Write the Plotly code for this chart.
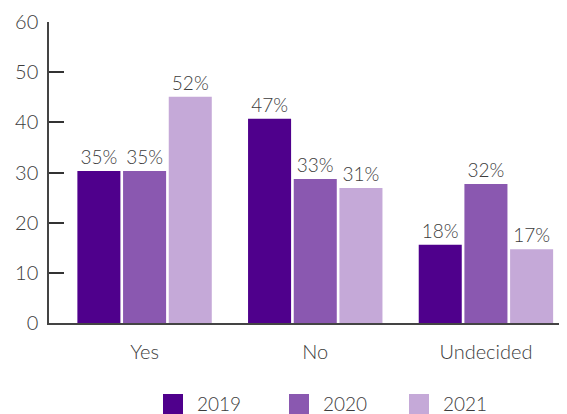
import plotly.graph_objects as go

categories = ["Yes", "No", "Undecided"]
years = ["2019", "2020", "2021"]
values_2019 = [30.3, 40.7, 15.6]
values_2020 = [30.3, 28.7, 27.7]
values_2021 = [45.1, 26.9, 14.7]
labels_2019 = ["35%", "47%", "18%"]
labels_2020 = ["35%", "33%", "32%"]
labels_2021 = ["52%", "31%", "17%"]
y_ticks = [0, 10, 20, 30, 40, 50, 60]

colors = ["#4f008c", "#8a58b0", "#c5a9d8"]
series = [values_2019, values_2020, values_2021]
labels = [labels_2019, labels_2020, labels_2021]

OFF = 8  # page body offset
W, H = 567 - OFF, 414 - OFF
ML, MR, MT, MB = 49 - OFF, 0, 22 - OFF, 91
PW, PH = W - ML - MR, H - MT - MB
BOTTOM = H - MB  # plot bottom in figure px
FONT = "Lato"
TXT = "#3c3c3c"

fig = go.Figure()
for yr, vals, lab, col in zip(years, series, labels, colors):
    fig.add_trace(go.Bar(
        x=categories, y=vals, name=yr, marker=dict(color=col, line=dict(width=0)),
        text=lab, textposition="outside", cliponaxis=False,
        textfont=dict(family=FONT, size=19, color=TXT, weight=300),
        showlegend=False,
    ))

# custom legend (squares + labels), reference pixel positions
legend_sq_px = [163, 289, 409]
for i, (yr, col) in enumerate(zip(years, colors)):
    px = legend_sq_px[i] - OFF
    x0 = (px - ML) / PW
    x1 = (px + 20 - ML) / PW
    y0 = -((394 - OFF) - BOTTOM) / PH
    y1 = -((414 - OFF) - BOTTOM) / PH
    fig.add_shape(type="rect", xref="paper", yref="paper", x0=x0, x1=x1, y0=y0, y1=y1,
                  fillcolor=col, line=dict(width=0))
    fig.add_annotation(xref="paper", yref="paper", x=(px + 32 - ML) / PW,
                       y=-((403 - OFF) - BOTTOM) / PH, text=yr, showarrow=False,
                       xanchor="left", yanchor="middle",
                       font=dict(family=FONT, size=19, color=TXT, weight=300))

fig.update_layout(
    width=W, height=H,
    margin=dict(l=ML, r=MR, t=MT, b=MB),
    paper_bgcolor="white", plot_bgcolor="white",
    barmode="group", bargap=0.197, bargroupgap=0.058,
    font=dict(family=FONT, size=18, color=TXT),
    xaxis=dict(range=[-0.56, 2.475], showgrid=False, showline=True, linecolor="#444444",
               linewidth=1.5, ticks="", tickfont=dict(family=FONT, size=20, color=TXT, weight=300),
               ticklabelstandoff=10),
    yaxis=dict(range=[0, 60], tickvals=y_ticks, showgrid=False, showline=True,
               linecolor="#444444", linewidth=1.5, ticks="inside", ticklen=15,
               tickwidth=2, tickcolor="#333333", zeroline=False,
               tickfont=dict(family=FONT, size=20, color=TXT, weight=300), ticklabelstandoff=5),
)

fig.write_html("out.html")
